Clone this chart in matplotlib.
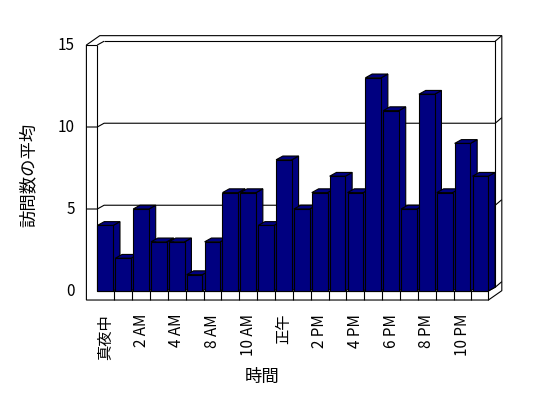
import matplotlib
matplotlib.use("Agg")
import matplotlib.pyplot as plt
from matplotlib.patches import Polygon, Rectangle

plt.rcParams['font.family'] = ['Noto Sans CJK JP', 'DejaVu Sans']

# ---- data ----
hours = ['真夜中', '1 AM', '2 AM', '3 AM', '4 AM', '7 AM', '8 AM', '9 AM', '10 AM', '11 AM',
         '正午', '1 PM', '2 PM', '3 PM', '4 PM', '5 PM', '6 PM', '7 PM', '8 PM', '9 PM',
         '10 PM', '11 PM']
visits = [4, 2, 5, 3, 3, 1, 3, 6, 6, 4, 8, 5, 6, 7, 6, 13, 11, 5, 12, 6, 9, 7]
y_ticks = [0, 5, 10, 15]
x_title = '時間'
y_title = '訪問数の平均'

# ---- style / geometry ----
BAR = '#000080'
EDGE = 'black'
LW = 0.8
n = len(visits)
ymax = y_ticks[-1]
bw = 0.88            # bar width (category units)
Dx, Dy = 0.38, 0.23  # depth of the plot box
Tx, Ty = 0.37, 0.34  # thickness of the walls
wl = -0.56           # outer left of left wall
x0 = 0.05            # inner edge of left wall
xe = n - 0.05        # right end of floor
F = 0.55             # floor thickness

fig = plt.figure(figsize=(5.48, 3.98), dpi=100)
ax = fig.add_axes([0, 0, 1, 1])
ax.set_xlim(-5.398, 25.286)
ax.set_ylim(-6.524, 17.744)
ax.axis('off')

def poly(pts, fc='white', z=1):
    ax.add_patch(Polygon(pts, closed=True, facecolor=fc, edgecolor=EDGE, lw=LW, zorder=z, joinstyle='miter'))

def line(xs, ys, z=2):
    ax.plot(xs, ys, color=EDGE, lw=LW, zorder=z, solid_capstyle='butt')

# outer silhouette
poly([(wl, -F), (wl, ymax), (wl + Dx + Tx, ymax + Dy + Ty), (xe + Dx + Tx, ymax + Dy + Ty),
      (xe + Dx + Tx, -F + Dy + Ty), (xe, -F)], z=1)
# left wall front face
line([x0, x0], [0, ymax])
line([wl, x0], [ymax, ymax])
line([x0, x0 + Dx], [ymax, ymax + Dy])
# back wall front face
line([x0 + Dx, xe + Dx, xe + Dx], [ymax + Dy, ymax + Dy, Dy])
line([xe + Dx, xe + Dx + Tx], [ymax + Dy, ymax + Dy + Ty])
# floor
line([x0, xe, xe], [0, 0, -F])
line([xe, xe + Dx, xe + Dx + Tx], [0, Dy, Dy + Ty])
for k in range(1, n):
    line([k, k], [-F, 0])
# gridlines
for v in y_ticks[1:-1]:
    line([wl, x0, x0 + Dx, xe + Dx, xe + Dx + Tx], [v, v, v + Dy, v + Dy, v + Dy + Ty])

# bars
for i, v in enumerate(visits):
    l = i + (1 - bw) / 2
    r = l + bw
    z = 3 + i * 0.01
    poly([(r, 0), (r + Dx, Dy), (r + Dx, v + Dy), (r, v)], fc=BAR, z=z)
    poly([(l, v), (r, v), (r + Dx, v + Dy), (l + Dx, v + Dy)], fc=BAR, z=z)
    ax.add_patch(Rectangle((l, 0), bw, v, facecolor=BAR, edgecolor=EDGE, lw=LW, zorder=z + 0.001))

# tick labels
for v in y_ticks:
    ax.text(-1.2, v, str(v), ha='right', va='center', fontsize=11)
for i, lab in enumerate(hours):
    if i % 2 == 0:
        ax.text(i + 0.5, -1.4, lab, rotation=90, ha='center', va='top', fontsize=11)

ax.text(-3.77, 7.07, y_title, rotation=90, ha='center', va='center', fontsize=12.5)
ax.text(9.27, -5.24, x_title, ha='center', va='center', fontsize=12.5)

fig.savefig('out.png', dpi=100)
